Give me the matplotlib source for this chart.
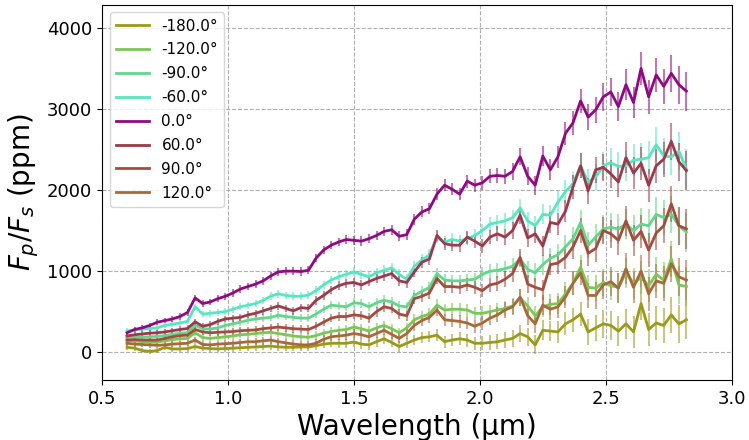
import matplotlib
matplotlib.use("Agg")
import matplotlib.pyplot as plt

# wavelength grid (micron)
wavelength = [0.60, 0.63, 0.66, 0.69, 0.72, 0.75, 0.78, 0.81, 0.84, 0.87,
              0.90, 0.93, 0.96, 0.99, 1.02, 1.05, 1.08, 1.11, 1.14, 1.17,
              1.20, 1.23, 1.26, 1.29, 1.32, 1.35, 1.38, 1.41, 1.44, 1.47,
              1.50, 1.53, 1.56, 1.59, 1.62, 1.65, 1.68, 1.71, 1.74, 1.77,
              1.80, 1.83, 1.86, 1.89, 1.92, 1.95, 1.98, 2.01, 2.04, 2.07,
              2.10, 2.13, 2.16, 2.19, 2.22, 2.25, 2.28, 2.31, 2.34, 2.37,
              2.40, 2.43, 2.46, 2.49, 2.52, 2.55, 2.58, 2.61, 2.64, 2.67,
              2.70, 2.73, 2.76, 2.79, 2.82]

# Fp/Fs in ppm for each orbital phase
fp_m180 = [60, 50, 20, 10, 20, 60, 40, 40, 45, 70,
           50, 45, 40, 45, 50, 55, 60, 65, 70, 75,
           66, 60, 60, 65, 66, 80, 100, 110, 110, 110,
           125, 100, 90, 130, 165, 120, 70, 110, 150, 180,
           190, 210, 130, 150, 165, 150, 110, 110, 120, 128,
           150, 170, 230, 190, 90, 270, 260, 250, 350, 400,
           470, 250, 300, 350, 330, 260, 350, 250, 600, 280,
           360, 330, 460, 350, 400]
fp_m120 = [140, 140, 130, 125, 125, 140, 155, 165, 170, 240,
           180, 170, 180, 190, 200, 215, 220, 230, 240, 245,
           230, 215, 200, 190, 185, 205, 235, 255, 270, 280,
           310, 290, 260, 300, 330, 290, 240, 300, 400, 440,
           470, 580, 520, 530, 530, 520, 480, 480, 500, 520,
           540, 570, 670, 570, 450, 560, 590, 600, 720, 850,
           1050, 800, 790, 860, 820, 800, 980, 850, 920, 820,
           960, 890, 1150, 830, 810]
fp_m90 = [180, 185, 185, 190, 195, 205, 220, 235, 240, 330,
          290, 285, 300, 330, 350, 370, 395, 410, 420, 430,
          455, 440, 430, 420, 420, 470, 530, 580, 570, 560,
          610, 600, 560, 610, 640, 620, 570, 560, 700, 750,
          800, 970, 890, 880, 880, 890, 900, 960, 1000, 1010,
          1030, 1060, 1150, 1020, 980, 1080, 1160, 1200, 1300, 1400,
          1600, 1320, 1420, 1520, 1540, 1520, 1580, 1500, 1580, 1560,
          1700, 1660, 1700, 1560, 1480]
fp_m60 = [260, 275, 285, 290, 300, 330, 345, 360, 380, 560,
          470, 480, 490, 500, 530, 560, 580, 600, 640, 690,
          720, 700, 690, 690, 705, 760, 830, 890, 930, 960,
          990, 960, 930, 980, 1010, 1040, 960, 900, 1060, 1140,
          1200, 1420, 1360, 1390, 1370, 1400, 1440, 1500, 1580, 1600,
          1620, 1660, 1780, 1620, 1560, 1700, 1690, 1850, 1980, 2080,
          2300, 2100, 2160, 2300, 2340, 2290, 2300, 2370, 2380, 2400,
          2560, 2420, 2410, 2480, 2260]
fp_0 = [240, 280, 300, 330, 370, 390, 410, 440, 490, 670,
        600, 620, 660, 690, 730, 780, 810, 840, 880, 940,
        990, 1000, 1000, 995, 1010, 1160, 1260, 1320, 1360, 1390,
        1380, 1370, 1400, 1440, 1490, 1510, 1430, 1450, 1640, 1730,
        1770, 1950, 2060, 2010, 1950, 2110, 2060, 2090, 2170, 2180,
        2170, 2230, 2410, 2170, 2060, 2420, 2250, 2410, 2700, 2830,
        3100, 2900, 2990, 3150, 3210, 3030, 3300, 3080, 3500, 3150,
        3420, 3280, 3440, 3300, 3220]
fp_60 = [200, 215, 225, 235, 240, 250, 265, 280, 292, 374,
         320, 340, 380, 410, 420, 430, 460, 480, 510, 540,
         570, 540, 510, 550, 540, 640, 700, 770, 820, 850,
         860, 830, 870, 910, 940, 970, 880, 860, 990, 1110,
         1150, 1440, 1340, 1320, 1320, 1420, 1370, 1310, 1420, 1460,
         1420, 1500, 1690, 1410, 1460, 1310, 1600, 1580, 1740, 2040,
         2300, 1990, 2250, 2280, 2200, 2100, 2400, 2210, 2330, 2060,
         2300, 2380, 2600, 2350, 2240]
fp_90 = [150, 155, 150, 150, 150, 170, 190, 205, 210, 280,
         250, 240, 245, 250, 255, 265, 270, 275, 290, 300,
         310, 300, 290, 285, 280, 320, 370, 420, 440, 440,
         460, 450, 420, 500, 560, 540, 470, 450, 660, 690,
         730, 910, 810, 810, 800, 830, 800, 760, 830, 850,
         900, 970, 1170, 840, 800, 770, 1080, 1100, 1170, 1300,
         1500, 1220, 1280, 1500, 1460, 1380, 1620, 1380, 1490, 1260,
         1470, 1560, 1830, 1560, 1520]
fp_120 = [110, 100, 95, 90, 85, 90, 100, 105, 110, 150,
          95, 90, 100, 105, 110, 120, 128, 130, 140, 150,
          130, 115, 100, 90, 90, 110, 160, 190, 200, 210,
          230, 215, 190, 230, 270, 220, 170, 230, 330, 390,
          430, 520, 400, 390, 380, 360, 320, 360, 420, 460,
          520, 560, 680, 450, 350, 580, 530, 560, 680, 850,
          980, 700, 700, 830, 870, 790, 1030, 800, 1000, 720,
          880, 850, 1090, 930, 890]

# 1-sigma uncertainty (ppm), same for every phase
fp_err = [35, 35, 35, 35, 36, 36, 36, 38, 38, 38,
          40, 40, 42, 42, 44, 44, 44, 46, 46, 48,
          48, 48, 50, 50, 50, 52, 52, 52, 54, 54,
          56, 58, 58, 60, 60, 62, 62, 64, 66, 68,
          70, 72, 74, 76, 78, 80, 82, 85, 88, 92,
          96, 100, 104, 110, 116, 122, 128, 134, 140, 146,
          152, 158, 164, 170, 176, 182, 188, 194, 200, 206,
          212, 218, 226, 234, 242]

phases = ["-180.0°", "-120.0°", "-90.0°", "-60.0°", "0.0°", "60.0°", "90.0°", "120.0°"]
spectra = [fp_m180, fp_m120, fp_m90, fp_m60, fp_0, fp_60, fp_90, fp_120]
colors = ["#9a9a1a", "#7cc657", "#63d68a", "#58e6c0",
          "#8e0a7e", "#9b3a4c", "#a24d3e", "#a8693a"]

fig, ax = plt.subplots(figsize=(7.49, 4.40), dpi=100)
fig.subplots_adjust(left=0.136, right=0.977, bottom=0.136, top=0.989)

for label, fp, c in zip(phases, spectra, colors):
    ax.errorbar(wavelength, fp, yerr=fp_err, fmt="none", ecolor=c,
                elinewidth=1.5, alpha=0.55, zorder=2)
    ax.plot(wavelength, fp, color=c, lw=2, label=label, zorder=3)

ax.set_xlim(0.5, 3.0)
ax.set_ylim(-345, 4285)
ax.set_xticks([0.5, 1.0, 1.5, 2.0, 2.5, 3.0])
ax.set_yticks([0, 1000, 2000, 3000, 4000])
ax.tick_params(labelsize=13)
ax.grid(True, linestyle="--", color="#b0b0b0", lw=0.8)
ax.set_xlabel("Wavelength (µm)", fontsize=20)
ax.set_ylabel("$F_p/F_s$ (ppm)", fontsize=20)
ax.legend(loc="upper left", fontsize=11, handlelength=2.2, labelspacing=0.58)

plt.savefig("out.png")
